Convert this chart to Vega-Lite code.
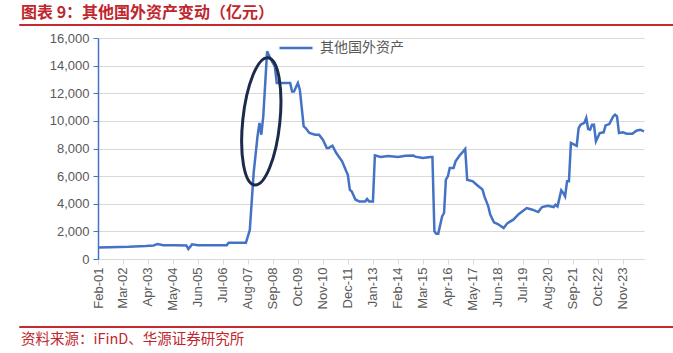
{
  "$schema": "https://vega.github.io/schema/vega-lite/v6.json",
  "padding": {"left": 18, "top": 4, "right": 0, "bottom": 0},
  "background": "white",
  "spacing": 6,
  "align": "none",
  "bounds": "full",
  "config": {
    "font": "Liberation Sans",
    "view": {"stroke": null}
  },
  "datasets": {
    "series": [
      {"date": "2001-02-01", "value": 840},
      {"date": "2001-08-01", "value": 850},
      {"date": "2002-06-01", "value": 880},
      {"date": "2003-03-01", "value": 940},
      {"date": "2003-07-01", "value": 985},
      {"date": "2003-09-01", "value": 1090},
      {"date": "2003-12-01", "value": 1000},
      {"date": "2004-06-01", "value": 1000},
      {"date": "2004-12-01", "value": 985},
      {"date": "2005-01-01", "value": 720},
      {"date": "2005-03-01", "value": 1060},
      {"date": "2005-06-01", "value": 1000},
      {"date": "2006-02-01", "value": 990},
      {"date": "2006-09-01", "value": 990},
      {"date": "2006-10-01", "value": 1180},
      {"date": "2007-07-01", "value": 1170},
      {"date": "2007-09-01", "value": 2100},
      {"date": "2007-11-01", "value": 6230},
      {"date": "2008-01-01", "value": 8880},
      {"date": "2008-02-01", "value": 9850},
      {"date": "2008-03-01", "value": 9000},
      {"date": "2008-04-01", "value": 10320},
      {"date": "2008-06-01", "value": 15030},
      {"date": "2008-08-01", "value": 14430},
      {"date": "2008-10-01", "value": 13940},
      {"date": "2008-11-01", "value": 12740},
      {"date": "2009-06-01", "value": 12740},
      {"date": "2009-07-01", "value": 12130},
      {"date": "2009-08-01", "value": 12130},
      {"date": "2009-10-01", "value": 12740},
      {"date": "2009-11-01", "value": 12260},
      {"date": "2010-01-01", "value": 9600},
      {"date": "2010-02-01", "value": 9480},
      {"date": "2010-04-01", "value": 9120},
      {"date": "2010-07-01", "value": 9000},
      {"date": "2010-09-01", "value": 9000},
      {"date": "2010-11-01", "value": 8640},
      {"date": "2011-01-01", "value": 8040},
      {"date": "2011-02-01", "value": 8040},
      {"date": "2011-04-01", "value": 8200},
      {"date": "2011-06-01", "value": 7670},
      {"date": "2011-09-01", "value": 7070},
      {"date": "2011-11-01", "value": 6400},
      {"date": "2011-12-01", "value": 6100},
      {"date": "2012-01-01", "value": 5020},
      {"date": "2012-02-01", "value": 4890},
      {"date": "2012-04-01", "value": 4290},
      {"date": "2012-06-01", "value": 4170},
      {"date": "2012-09-01", "value": 4170},
      {"date": "2012-10-01", "value": 4340},
      {"date": "2012-11-01", "value": 4170},
      {"date": "2013-01-01", "value": 4170},
      {"date": "2013-02-01", "value": 7500},
      {"date": "2013-05-01", "value": 7380},
      {"date": "2013-09-01", "value": 7460},
      {"date": "2014-02-01", "value": 7380},
      {"date": "2014-06-01", "value": 7480},
      {"date": "2014-10-01", "value": 7500},
      {"date": "2014-11-01", "value": 7410},
      {"date": "2015-03-01", "value": 7310},
      {"date": "2015-07-01", "value": 7380},
      {"date": "2015-08-01", "value": 7380},
      {"date": "2015-09-01", "value": 2000},
      {"date": "2015-10-01", "value": 1830},
      {"date": "2015-11-01", "value": 1830},
      {"date": "2016-01-01", "value": 3080},
      {"date": "2016-02-01", "value": 3330},
      {"date": "2016-03-01", "value": 5740},
      {"date": "2016-04-01", "value": 5980},
      {"date": "2016-05-01", "value": 6590},
      {"date": "2016-07-01", "value": 6590},
      {"date": "2016-08-01", "value": 7070},
      {"date": "2016-10-01", "value": 7480},
      {"date": "2016-12-01", "value": 7790},
      {"date": "2017-01-01", "value": 7960},
      {"date": "2017-02-01", "value": 5740},
      {"date": "2017-05-01", "value": 5620},
      {"date": "2017-07-01", "value": 5380},
      {"date": "2017-10-01", "value": 5030},
      {"date": "2017-11-01", "value": 4530},
      {"date": "2018-01-01", "value": 3810},
      {"date": "2018-02-01", "value": 3210},
      {"date": "2018-04-01", "value": 2650},
      {"date": "2018-06-01", "value": 2530},
      {"date": "2018-09-01", "value": 2240},
      {"date": "2018-11-01", "value": 2600},
      {"date": "2019-02-01", "value": 2850},
      {"date": "2019-05-01", "value": 3260},
      {"date": "2019-09-01", "value": 3690},
      {"date": "2019-12-01", "value": 3570},
      {"date": "2020-03-01", "value": 3400},
      {"date": "2020-05-01", "value": 3760},
      {"date": "2020-08-01", "value": 3860},
      {"date": "2020-11-01", "value": 3760},
      {"date": "2020-12-01", "value": 3930},
      {"date": "2021-01-01", "value": 3810},
      {"date": "2021-03-01", "value": 4970},
      {"date": "2021-04-01", "value": 4780},
      {"date": "2021-05-01", "value": 4530},
      {"date": "2021-06-01", "value": 5620},
      {"date": "2021-07-01", "value": 5620},
      {"date": "2021-08-01", "value": 8400},
      {"date": "2021-10-01", "value": 8270},
      {"date": "2021-11-01", "value": 8200},
      {"date": "2021-12-01", "value": 9480},
      {"date": "2022-01-01", "value": 9720},
      {"date": "2022-03-01", "value": 9850},
      {"date": "2022-04-01", "value": 10210},
      {"date": "2022-05-01", "value": 9410},
      {"date": "2022-06-01", "value": 9360},
      {"date": "2022-07-01", "value": 9720},
      {"date": "2022-08-01", "value": 9720},
      {"date": "2022-09-01", "value": 8520},
      {"date": "2022-11-01", "value": 9120},
      {"date": "2023-01-01", "value": 9170},
      {"date": "2023-02-01", "value": 9670},
      {"date": "2023-04-01", "value": 9770},
      {"date": "2023-06-01", "value": 10320},
      {"date": "2023-07-01", "value": 10450},
      {"date": "2023-08-01", "value": 10320},
      {"date": "2023-09-01", "value": 9120},
      {"date": "2023-11-01", "value": 9170},
      {"date": "2024-01-01", "value": 9070},
      {"date": "2024-04-01", "value": 9070},
      {"date": "2024-06-01", "value": 9290},
      {"date": "2024-08-01", "value": 9360},
      {"date": "2024-10-01", "value": 9240}
    ],
    "marks": [{"date": "2008-03-01", "value": 9960}]
  },
  "vconcat": [
    {
      "width": 654,
      "height": 1,
      "title": {"text": "图表 9：其他国外资产变动（亿元）", "anchor": "start", "orient": "top", "offset": 3, "dx": 2, "font": "Noto Sans CJK SC", "fontSize": 16, "fontWeight": "bold", "color": "#c0262d"},
      "view": {"stroke": "#c4292f", "strokeWidth": 1},
      "data": {"values": []},
      "mark": "rule",
      "encoding": {}
    },
    {
      "spacing": 0,
      "hconcat": [
        {
          "width": 30,
          "height": 281,
          "view": {"stroke": null},
          "data": {"values": []},
          "mark": "rule",
          "encoding": {}
        },
        {
          "width": 546,
          "height": 221,
          "view": {"stroke": null},
          "encoding": {
            "x": {
              "field": "date",
              "type": "temporal",
              "scale": {"type": "utc", "domain": [{"year": 2001, "month": 2, "date": 1, "utc": true}, {"year": 2024, "month": 10, "date": 1, "utc": true}]},
              "axis": {
                "title": null,
                "values": [
                  {"year": 2001, "month": 2, "date": 1, "utc": true},
                  {"year": 2002, "month": 3, "date": 1, "utc": true},
                  {"year": 2003, "month": 4, "date": 1, "utc": true},
                  {"year": 2004, "month": 5, "date": 1, "utc": true},
                  {"year": 2005, "month": 6, "date": 1, "utc": true},
                  {"year": 2006, "month": 7, "date": 1, "utc": true},
                  {"year": 2007, "month": 8, "date": 1, "utc": true},
                  {"year": 2008, "month": 9, "date": 1, "utc": true},
                  {"year": 2009, "month": 10, "date": 1, "utc": true},
                  {"year": 2010, "month": 11, "date": 1, "utc": true},
                  {"year": 2011, "month": 12, "date": 1, "utc": true},
                  {"year": 2013, "month": 1, "date": 1, "utc": true},
                  {"year": 2014, "month": 2, "date": 1, "utc": true},
                  {"year": 2015, "month": 3, "date": 1, "utc": true},
                  {"year": 2016, "month": 4, "date": 1, "utc": true},
                  {"year": 2017, "month": 5, "date": 1, "utc": true},
                  {"year": 2018, "month": 6, "date": 1, "utc": true},
                  {"year": 2019, "month": 7, "date": 1, "utc": true},
                  {"year": 2020, "month": 8, "date": 1, "utc": true},
                  {"year": 2021, "month": 9, "date": 1, "utc": true},
                  {"year": 2022, "month": 10, "date": 1, "utc": true},
                  {"year": 2023, "month": 11, "date": 1, "utc": true}
                ],
                "format": "%b-%y",
                "labelAngle": 270,
                "grid": false,
                "domainColor": "#D9D9D9",
                "tickColor": "#D9D9D9",
                "tickSize": 5,
                "labelPadding": 3,
                "labelFont": "Liberation Sans",
                "labelFontSize": 13,
                "labelColor": "#595959",
                "labelOverlap": false,
                "labelFlush": false
              }
            },
            "y": {
              "field": "value",
              "type": "quantitative",
              "scale": {"domain": [0, 16000], "nice": false},
              "axis": {
                "title": null,
                "values": [0, 2000, 4000, 6000, 8000, 10000, 12000, 14000, 16000],
                "format": ",d",
                "grid": true,
                "gridColor": "#D9D9D9",
                "gridWidth": 1,
                "domainColor": "#4472C4",
                "domainWidth": 1.5,
                "tickColor": "#4472C4",
                "tickSize": 5,
                "labelPadding": 4,
                "labelOverlap": false,
                "labelFont": "Liberation Sans",
                "labelFontSize": 13,
                "labelColor": "#595959"
              }
            }
          },
          "layer": [
            {
              "data": {"name": "series"},
              "mark": {"type": "line", "strokeWidth": 2.5},
              "encoding": {
                "color": {
                  "datum": "其他国外资产",
                  "scale": {"range": ["#4472C4"]},
                  "legend": {
                    "title": null,
                    "orient": "none",
                    "legendX": 259,
                    "legendY": 6,
                    "padding": 0,
                    "symbolType": "stroke",
                    "symbolSize": 1089,
                    "symbolStrokeWidth": 2.5,
                    "labelFont": "Noto Sans CJK SC",
                    "labelFontSize": 14,
                    "labelColor": "#595959",
                    "labelOffset": 6
                  }
                }
              }
            },
            {
              "data": {"name": "marks"},
              "mark": {"type": "point", "shape": "M0,-1A0.29,1,0,1,1,0,1A0.29,1,0,1,1,0,-1Z", "size": 16384, "angle": 6, "filled": false, "fill": null, "stroke": "#1c2b4b", "strokeWidth": 3, "opacity": 1},
              "encoding": {}
            }
          ]
        }
      ]
    },
    {
      "width": 654,
      "height": 1,
      "title": {"text": "资料来源：iFinD、华源证券研究所", "anchor": "start", "orient": "bottom", "offset": 6, "dx": 2, "font": "Noto Sans CJK SC", "fontSize": 14.5, "fontWeight": "normal", "color": "#c0262d"},
      "view": {"stroke": "#c4292f", "strokeWidth": 1},
      "data": {"values": []},
      "mark": "rule",
      "encoding": {}
    }
  ]
}
